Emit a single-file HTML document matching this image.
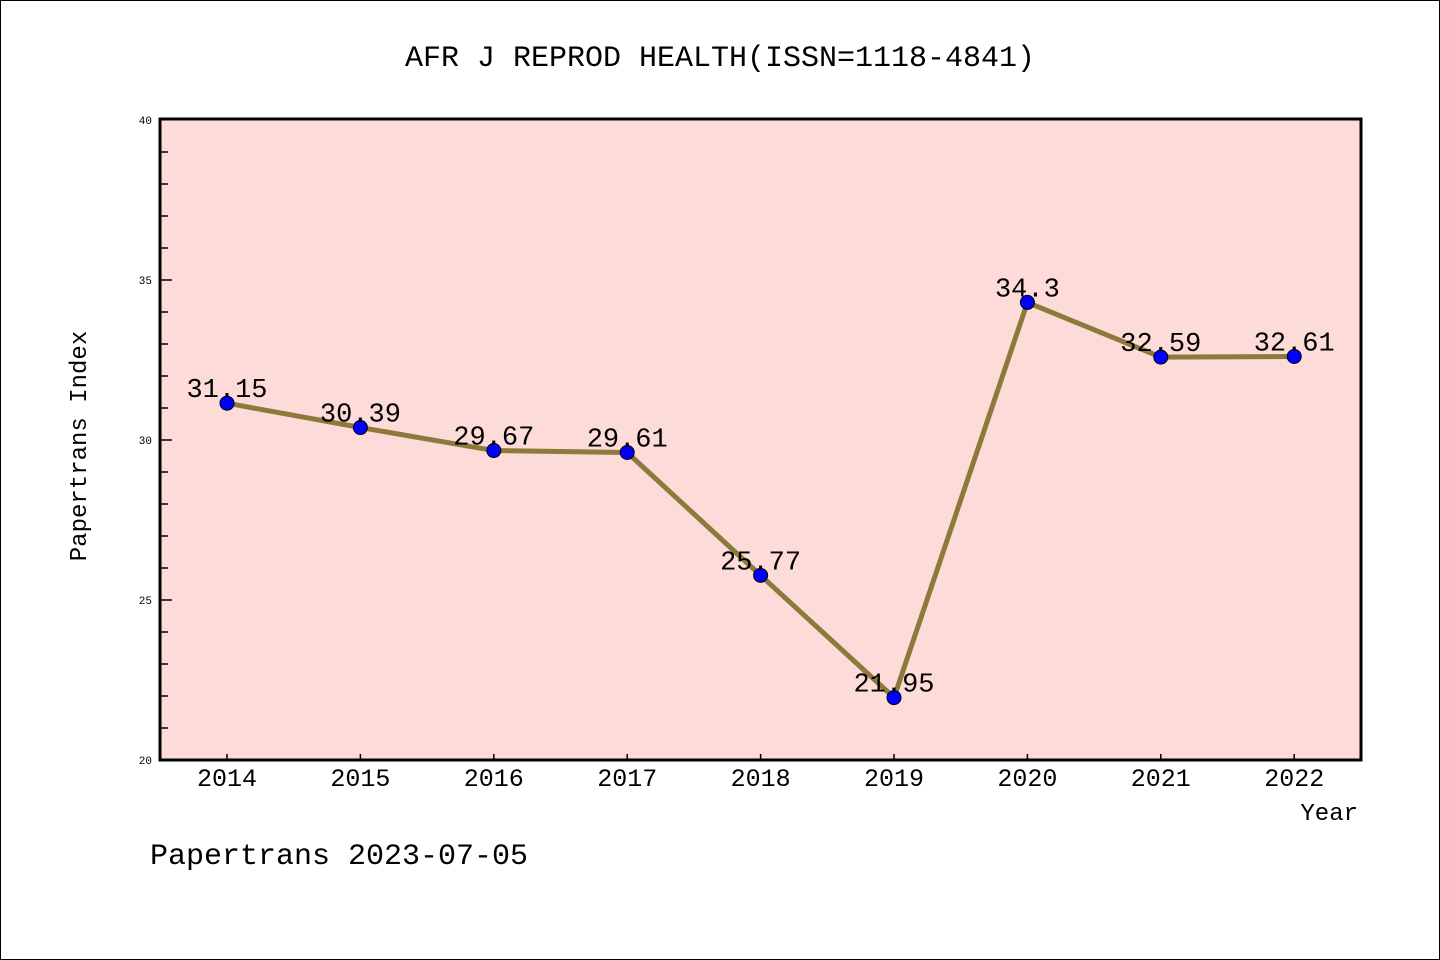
<!DOCTYPE html>
<html><head><meta charset="utf-8"><style>
body{margin:0;background:#fff}
svg{display:block}
text{font-family:"Liberation Mono","WenQuanYi Zen Hei",monospace}
</style></head><body>
<svg width="1440" height="960">
<rect x="0.5" y="0.5" width="1439" height="959" fill="#fff" stroke="#000"/>
<text x="720" y="66" font-size="30" text-anchor="middle">AFR J REPROD HEALTH(ISSN=1118-4841)</text>
<rect x="160" y="119" width="1201" height="641" fill="#fddbd8"/>
<g id="axes"></g>
<g id="series"></g>
<rect x="160" y="119" width="1201" height="641" fill="none" stroke="#000" stroke-width="3"/>
<text x="86" y="446" font-size="24" text-anchor="middle" transform="rotate(-90 86 446)">Papertrans Index</text>
<text x="1358" y="820" font-size="24" text-anchor="end">Year</text>
<text x="150" y="864" font-size="30">Papertrans 2023-07-05</text>
</svg>
<script>
const years=["2014","2015","2016","2017","2018","2019","2020","2021","2022"];
const values=[31.15,30.39,29.67,29.61,25.77,21.95,34.3,32.59,32.61];
const labels=["31.15","30.39","29.67","29.61","25.77","21.95","34.3","32.59","32.61"];
const yTicks=[20,25,30,35,40];
const NS="http://www.w3.org/2000/svg";
const X=i=>227+i*133.4;
const Y=v=>760-(v-20)*32;
function mk(t,a,p){const e=document.createElementNS(NS,t);for(const k in a)e.setAttribute(k,a[k]);p.appendChild(e);return e;}
const ax=document.getElementById('axes'),se=document.getElementById('series');
for(let v=21;v<40;v++){const l=mk('line',{x1:160,x2:v%5?168:172,y1:Y(v),y2:Y(v),stroke:'#000','stroke-width':1.5},ax);

}
yTicks.forEach(v=>{const t=mk('text',{x:152,y:Y(v)+4,'font-size':11,'text-anchor':'end','font-family':'Liberation Sans, sans-serif'},ax);t.textContent=v;

});
years.forEach((y,i)=>{const l=mk('line',{x1:X(i),x2:X(i),y1:760,y2:754,stroke:'#000','stroke-width':1.5},ax);


const t=mk('text',{x:X(i),y:786,'font-size':25,'text-anchor':'middle'},ax);t.textContent=y;

});
const pl=mk('polyline',{points:values.map((v,i)=>X(i)+','+Y(v)).join(' '),fill:'none',stroke:'#8b7a3a','stroke-width':5},se);


values.forEach((v,i)=>{const c=mk('circle',{cx:X(i),cy:Y(v),r:7,fill:'#0000ff',stroke:'#000','stroke-width':1},se);


const t=mk('text',{x:X(i),y:Y(v)-6,'font-size':27,'text-anchor':'middle'},se);t.textContent=labels[i];

});
</script>
</body></html>
